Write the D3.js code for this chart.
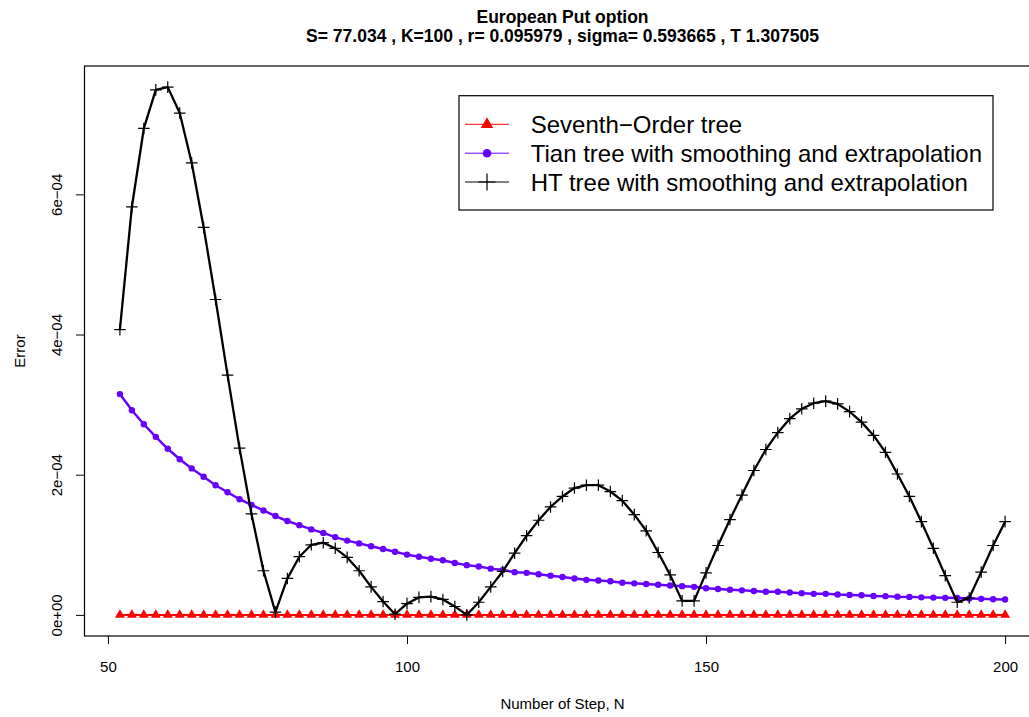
<!DOCTYPE html>
<html>
<head>
<meta charset="utf-8">
<script src="https://cdn.jsdelivr.net/npm/d3@7/dist/d3.min.js"></script>
<style>
  body { margin: 0; background: #fff; }
  text { font-family: "Liberation Sans", Arial, Helvetica, sans-serif; }
</style>
</head>
<body>
<svg id="graph"></svg>
<script>
// steps N
var steps = [52, 54, 56, 58, 60, 62, 64, 66, 68, 70, 72, 74, 76, 78, 80, 82, 84, 86, 88, 90,
    92, 94, 96, 98, 100, 102, 104, 106, 108, 110, 112, 114, 116, 118, 120, 122, 124, 126, 128, 130,
    132, 134, 136, 138, 140, 142, 144, 146, 148, 150, 152, 154, 156, 158, 160, 162, 164, 166, 168, 170,
    172, 174, 176, 178, 180, 182, 184, 186, 188, 190, 192, 194, 196, 198, 200];

// errors
var seventhErr = [0, 0, 0, 0, 0, 0, 0, 0, 0, 0, 0, 0, 0, 0, 0, 0, 0, 0, 0, 0,
    0, 0, 0, 0, 0, 0, 0, 0, 0, 0, 0, 0, 0, 0, 0, 0, 0, 0, 0, 0,
    0, 0, 0, 0, 0, 0, 0, 0, 0, 0, 0, 0, 0, 0, 0, 0, 0, 0, 0, 0,
    0, 0, 0, 0, 0, 0, 0, 0, 0, 0, 0, 0, 0, 0, 0];

var tianErr = [3.15e-4, 2.92e-4, 2.72e-4, 2.54e-4, 2.37e-4, 2.22e-4, 2.09e-4, 1.97e-4, 1.85e-4, 1.75e-4,
    1.65e-4, 1.57e-4, 1.49e-4, 1.41e-4, 1.34e-4, 1.28e-4, 1.22e-4, 1.17e-4, 1.11e-4, 1.06e-4,
    1.02e-4, 0.98e-4, 0.94e-4, 0.90e-4, 0.86e-4, 0.83e-4, 0.80e-4, 0.78e-4, 0.74e-4, 0.71e-4,
    0.69e-4, 0.66e-4, 0.64e-4, 0.61e-4, 0.60e-4, 0.58e-4, 0.56e-4, 0.54e-4, 0.52e-4, 0.50e-4,
    0.49e-4, 0.48e-4, 0.46e-4, 0.45e-4, 0.44e-4, 0.43e-4, 0.42e-4, 0.41e-4, 0.40e-4, 0.38e-4,
    0.37e-4, 0.36e-4, 0.35e-4, 0.34e-4, 0.33e-4, 0.33e-4, 0.32e-4, 0.31e-4, 0.30e-4, 0.30e-4,
    0.29e-4, 0.285e-4, 0.28e-4, 0.27e-4, 0.267e-4, 0.26e-4, 0.257e-4, 0.25e-4, 0.247e-4, 0.243e-4,
    0.24e-4, 0.233e-4, 0.229e-4, 0.224e-4, 0.22e-4];

var htErr = [4.07e-4, 5.82e-4, 6.94e-4, 7.49e-4, 7.53e-4, 7.16e-4, 6.45e-4, 5.53e-4, 4.50e-4, 3.42e-4,
    2.38e-4, 1.44e-4, 0.63e-4, 0.04e-4, 0.52e-4, 0.83e-4, 1.00e-4, 1.03e-4, 0.95e-4, 0.82e-4,
    0.63e-4, 0.40e-4, 0.19e-4, 0.01e-4, 0.16e-4, 0.25e-4, 0.26e-4, 0.22e-4, 0.12e-4, 0.00e-4,
    0.18e-4, 0.40e-4, 0.62e-4, 0.88e-4, 1.13e-4, 1.35e-4, 1.54e-4, 1.69e-4, 1.81e-4, 1.85e-4,
    1.85e-4, 1.76e-4, 1.63e-4, 1.43e-4, 1.20e-4, 0.89e-4, 0.57e-4, 0.20e-4, 0.20e-4, 0.60e-4,
    0.99e-4, 1.36e-4, 1.71e-4, 2.06e-4, 2.36e-4, 2.60e-4, 2.80e-4, 2.94e-4, 3.02e-4, 3.05e-4,
    3.01e-4, 2.90e-4, 2.75e-4, 2.56e-4, 2.32e-4, 2.01e-4, 1.69e-4, 1.33e-4, 0.95e-4, 0.56e-4,
    0.18e-4, 0.24e-4, 0.61e-4, 0.99e-4, 1.33e-4];

var xTicks = [50, 100, 150, 200];
var yTicks = [0, 2e-4, 4e-4, 6e-4];
var seriesNames = ["Seventh\u2212Order tree", "Tian tree with smoothing and extrapolation", "HT tree with smoothing and extrapolation"];
var seriesColors = ["#ff0000", "#6600ff", "#000000"];

var W = 1029, H = 717;
var plot = {left: 84.5, right: 1040.5, top: 66, bottom: 636};

var svg = d3.select("#graph")
    .attr("width", W)
    .attr("height", H);

// R style 4% padding of the data range
var xExt = d3.extent(steps);
var xPad = (xExt[1] - xExt[0]) * 0.04;
var yMax = d3.max(htErr.concat(tianErr, seventhErr));
var yMin = d3.min(htErr.concat(tianErr, seventhErr));
var yPad = (yMax - yMin) * 0.04;

var x = d3.scaleLinear()
    .domain([xExt[0] - xPad, xExt[1] + xPad])
    .range([plot.left, plot.right]);
var y = d3.scaleLinear()
    .domain([yMin - yPad, yMax + yPad])
    .range([plot.bottom, plot.top]);

function rFormat(v) {
    if (v === 0) return "0e+00";
    var s = v.toExponential(0).split("e");
    var e = +s[1];
    var ex = (Math.abs(e) < 10 ? "0" : "") + Math.abs(e);
    return s[0] + "e" + (e < 0 ? "\u2212" : "+") + ex;
}

// title
var title = svg.append("g").attr("font-weight", "bold").attr("font-size", "17.5px").attr("text-anchor", "middle");
title.append("text").attr("x", (plot.left + plot.right) / 2).attr("y", 23).text("European Put option");
title.append("text").attr("x", (plot.left + plot.right) / 2).attr("y", 42)
    .text("S= 77.034 , K=100 , r= 0.095979 , sigma= 0.593665 , T 1.307505");

// axes
var xAxis = svg.append("g")
    .attr("transform", "translate(0," + plot.bottom + ")")
    .call(d3.axisBottom(x).tickValues(xTicks).tickSize(8).tickPadding(6).tickFormat(d3.format("d")));
xAxis.select(".domain").remove();
xAxis.selectAll("text").attr("font-size", "15px").attr("font-family", null).attr("dy", null).attr("y", 35.7);
xAxis.selectAll("line").attr("stroke", "#000");

var yAxis = svg.append("g")
    .attr("transform", "translate(" + plot.left + ",0)")
    .call(d3.axisLeft(y).tickValues(yTicks).tickSize(8.5).tickFormat(rFormat));
yAxis.select(".domain").remove();
yAxis.selectAll("text")
    .attr("font-size", "15px")
    .attr("font-family", null)
    .attr("x", null).attr("dy", null)
    .attr("text-anchor", "middle")
    .attr("transform", "translate(-22.8,0) rotate(-90)");

svg.append("text")
    .attr("font-size", "15px")
    .attr("text-anchor", "middle")
    .attr("x", (plot.left + plot.right) / 2)
    .attr("y", 709)
    .text("Number of Step, N");
svg.append("text")
    .attr("font-size", "15px")
    .attr("text-anchor", "middle")
    .attr("transform", "translate(25," + (plot.top + plot.bottom) / 2 + ") rotate(-90)")
    .text("Error");

// plot box
svg.append("rect")
    .attr("x", plot.left).attr("y", plot.top)
    .attr("width", plot.right - plot.left).attr("height", plot.bottom - plot.top)
    .attr("fill", "none").attr("stroke", "#000").attr("stroke-width", 1.2);

function line(vals) {
    return d3.line()
        .x(function (d, i) { return x(steps[i]); })
        .y(function (d) { return y(d); })(vals);
}

function triPath(s) {
    // R pch 17 geometry
    return "M0," + (-1.555 * s) + "L" + (1.347 * s) + "," + (0.778 * s) + "L" + (-1.347 * s) + "," + (0.778 * s) + "Z";
}
function plusPath(h) {
    return "M" + (-h) + ",0H" + h + "M0," + (-h) + "V" + h;
}

// Seventh-Order
svg.append("path").attr("d", line(seventhErr))
    .attr("fill", "none").attr("stroke", seriesColors[0]).attr("stroke-width", 2);
svg.append("g").selectAll("path")
    .data(seventhErr)
    .enter().append("path")
    .attr("transform", function (d, i) { return "translate(" + x(steps[i]) + "," + y(d) + ")"; })
    .attr("d", triPath(3.7))
    .attr("fill", seriesColors[0]);

// Tian
svg.append("path").attr("d", line(tianErr))
    .attr("fill", "none").attr("stroke", seriesColors[1]).attr("stroke-width", 2.5);
svg.append("g").selectAll("circle")
    .data(tianErr)
    .enter().append("circle")
    .attr("cx", function (d, i) { return x(steps[i]); })
    .attr("cy", function (d) { return y(d); })
    .attr("r", 3.2)
    .attr("fill", seriesColors[1]);

// HT
svg.append("path").attr("d", line(htErr))
    .attr("fill", "none").attr("stroke", seriesColors[2]).attr("stroke-width", 2.3)
    .attr("stroke-linejoin", "round");
svg.append("g").selectAll("path")
    .data(htErr)
    .enter().append("path")
    .attr("transform", function (d, i) { return "translate(" + x(steps[i]) + "," + y(d) + ")"; })
    .attr("d", plusPath(5.8))
    .attr("fill", "none")
    .attr("stroke", seriesColors[2])
    .attr("stroke-width", 1.2);

// legend
var legend = svg.append("g");
legend.append("rect")
    .attr("x", 459).attr("y", 95.7).attr("width", 534).attr("height", 114.3)
    .attr("fill", "#fff").attr("stroke", "#000").attr("stroke-width", 1.2);
var rowY = [124.3, 153.2, 182];
var item = legend.selectAll("g.item")
    .data(seriesNames)
    .enter().append("g")
    .attr("class", "item")
    .attr("transform", function (d, i) { return "translate(0," + rowY[i] + ")"; });
item.append("line")
    .attr("x1", 465).attr("x2", 509)
    .attr("stroke", function (d, i) { return seriesColors[i]; })
    .attr("stroke-width", 1);
item.append("text")
    .attr("x", 530.7).attr("y", 8.6)
    .attr("font-size", "24px")
    .text(function (d) { return d; });
legend.select("g.item:nth-child(2)").append("path")
    .attr("transform", "translate(487,0)")
    .attr("d", triPath(4.6)).attr("fill", seriesColors[0]);
legend.select("g.item:nth-child(3)").append("circle")
    .attr("cx", 487).attr("r", 4.3).attr("fill", seriesColors[1]);
legend.select("g.item:nth-child(4)").append("path")
    .attr("transform", "translate(487,0)")
    .attr("d", plusPath(8.5)).attr("fill", "none")
    .attr("stroke", seriesColors[2]).attr("stroke-width", 1.2);
</script>
</body>
</html>
